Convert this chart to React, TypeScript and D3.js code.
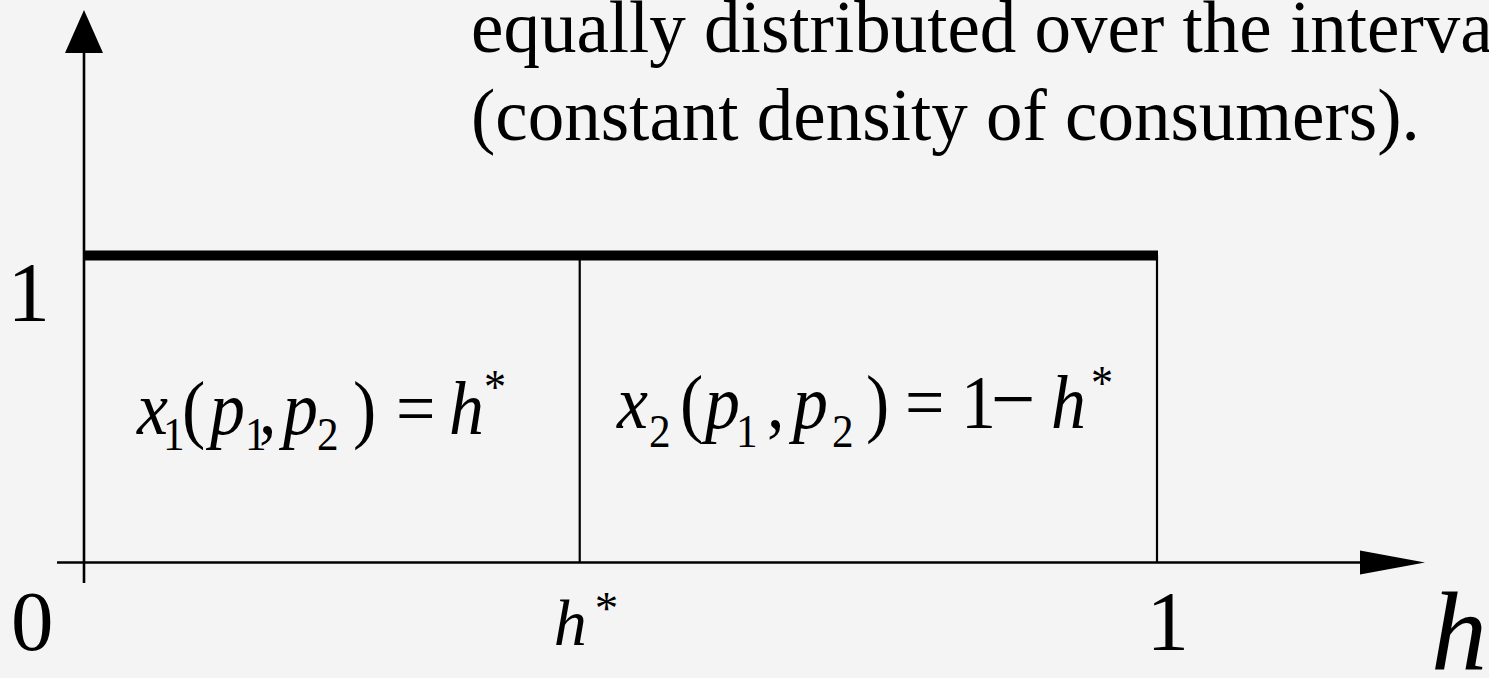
import React from "react";
import * as d3 from "d3";

// Consumer positions h are spread uniformly over [0, 1]
const partitionPoints = [0, 0.462, 1]; // 0, h*, 1
const densityLevel = [1];
const xTickLabels = ["0", "h", "1"];
const yTickLabels = ["1"];
const captionLines = [
  "equally distributed over the interval",
  "(constant density of consumers).",
];

const W = 1489;
const H = 678;
const SERIF = "'Liberation Serif', 'Times New Roman', Times, serif";
const BG = "#f4f4f4";

type Piece = { t: string; x: number; y: number; size: number; italic?: boolean };

// One <text> per formula, glyphs slightly condensed horizontally around ox
function Formula({ pieces, ox, sx }: { pieces: Piece[]; ox: number; sx: number }) {
  return (
    <g transform={`translate(${ox},0) scale(${sx},1)`}>
      <text fontFamily={SERIF} fill="#000">
        {pieces.map((p, i) => (
          <tspan
            key={i}
            x={(p.x - ox) / sx}
            y={p.y}
            fontSize={p.size}
            fontStyle={p.italic ? "italic" : "normal"}
          >
            {p.t}
          </tspan>
        ))}
      </text>
    </g>
  );
}

export default function App() {
  const x = d3.scaleLinear().domain([0, 1]).range([84, 1157]);
  const y = d3.scaleLinear().domain([0, 1]).range([562.5, 255.5]);

  const hStar = partitionPoints[1];
  const x0 = x(0);
  const y0 = y(0);
  const yTop = y(densityLevel[0]);

  // first share: x1(p1,p2) = h*
  const b1 = 434.5;
  const s1 = 450;
  const f1: Piece[] = [
    { t: "x", x: 137, y: b1, size: 76, italic: true },
    { t: "1", x: 163, y: s1, size: 47 },
    { t: "(", x: 182, y: b1, size: 76 },
    { t: "p", x: 210, y: b1, size: 76, italic: true },
    { t: "1", x: 245, y: s1, size: 47 },
    { t: ",", x: 259, y: b1, size: 76 },
    { t: "p", x: 283, y: b1, size: 76, italic: true },
    { t: "2", x: 317, y: s1, size: 47 },
    { t: ")", x: 353, y: b1, size: 76 },
    { t: "=", x: 396, y: b1, size: 76 },
    { t: "h", x: 449, y: b1, size: 76, italic: true },
    { t: "*", x: 484, y: 403.5, size: 48 },
  ];

  // second share: x2(p1,p2) = 1 − h*
  const b2 = 428.5;
  const s2 = 447;
  const f2: Piece[] = [
    { t: "x", x: 617, y: b2, size: 76, italic: true },
    { t: "2", x: 649, y: s2, size: 47 },
    { t: "(", x: 680, y: b2, size: 76 },
    { t: "p", x: 705, y: b2, size: 76, italic: true },
    { t: "1", x: 736, y: s2, size: 47 },
    { t: ",", x: 767, y: b2, size: 76 },
    { t: "p", x: 793, y: b2, size: 76, italic: true },
    { t: "2", x: 832, y: s2, size: 47 },
    { t: ")", x: 866, y: b2, size: 76 },
    { t: "=", x: 905, y: b2, size: 76 },
    { t: "1", x: 961, y: b2, size: 76 },
    { t: "\u2212", x: 991, y: b2, size: 86 },
    { t: "h", x: 1051, y: b2, size: 76, italic: true },
    { t: "*", x: 1091, y: 399.5, size: 48 },
  ];

  return (
    <svg
      width={W}
      height={H}
      viewBox={`0 0 ${W} ${H}`}
      style={{ position: "absolute", left: 0, top: 0, background: BG, display: "block" }}
    >
      <rect x={0} y={0} width={W} height={H} fill={BG} />

      {/* caption */}
      <g fontFamily={SERIF} fontSize={73} fill="#000">
        {captionLines.map((line, i) => (
          <text key={i} x={471} y={52 + i * 88}>
            {line}
          </text>
        ))}
      </g>

      {/* vertical axis with arrow */}
      <line x1={x0} x2={x0} y1={583} y2={50} stroke="#000" strokeWidth={2.6} />
      <path d={`M${x0},10 L${x0 - 19},53 L${x0 + 19},53 Z`} fill="#000" />

      {/* horizontal axis with arrow */}
      <line x1={57} x2={1362} y1={y0} y2={y0} stroke="#000" strokeWidth={2.6} />
      <path d={`M1425,${y0} L1360,${y0 - 12} L1360,${y0 + 12} Z`} fill="#000" />

      {/* partition lines at h* and 1 */}
      {partitionPoints.slice(1).map((p, i) => (
        <line key={i} x1={x(p)} x2={x(p)} y1={yTop} y2={y0} stroke="#000" strokeWidth={2.2} />
      ))}

      {/* constant density */}
      <line x1={x(0)} x2={x(1) + 1} y1={yTop} y2={yTop} stroke="#000" strokeWidth={10} />

      {/* tick labels */}
      <g fontFamily={SERIF} fill="#000">
        <text x={11} y={650} fontSize={85}>{xTickLabels[0]}</text>
        <text>
          <tspan x={x(hStar) - 26} y={645} fontSize={66} fontStyle="italic">{xTickLabels[1]}</tspan>
          <tspan x={x(hStar) + 15} y={623.8} fontSize={47}>*</tspan>
        </text>
        <text x={x(1) - 10.4} y={650} fontSize={85}>{xTickLabels[2]}</text>
        <text x={7.6} y={321} fontSize={85}>{yTickLabels[0]}</text>
        <text x={1431} y={670} fontSize={112} fontStyle="italic">h</text>
      </g>

      <Formula pieces={f1} ox={137} sx={0.92} />
      <Formula pieces={f2} ox={617} sx={0.92} />
    </svg>
  );
}
